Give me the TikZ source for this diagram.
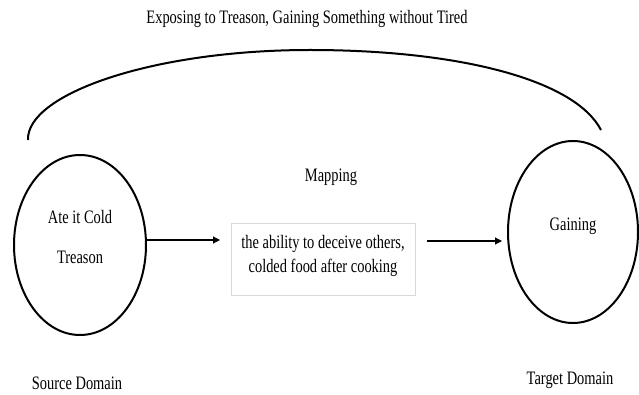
\documentclass[tikz,border=0pt]{standalone}
\usepackage{fontspec}
\setmainfont[FakeStretch=0.76]{Liberation Serif}
\usetikzlibrary{arrows.meta}
\begin{document}
\begin{tikzpicture}[x=1pt,y=-1pt,
  lbl/.style={font=\fontsize{19}{22}\selectfont, inner sep=0pt, anchor=base},
  link/.style={-{Triangle[length=7pt,width=7pt]}, line width=1.2pt},
  mapbox/.style={draw=black!15, line width=0.8pt, minimum width=184pt, minimum height=72pt, inner sep=0pt}]
\useasboundingbox (0,0) rectangle (639,395);
% domains
\draw[line width=2pt] (80,245) ellipse [x radius=66, y radius=90];
\draw[line width=2pt] (573,232) ellipse [x radius=65, y radius=91];
\coordinate (srcR) at (146,240);
\coordinate (mapL) at (220,240);
\coordinate (mapR) at (427,241);
\coordinate (tgtL) at (502,241);
% overarching arc
\draw[line width=2pt] (28,140) .. controls (26,95) and (150,50) .. (310,50)
  .. controls (460,50) and (575,80) .. (601,130);
% mapping box and its two lines
\node[mapbox] (map) at (323,259) {};
\node[lbl] (mapl1) at (323,248) {the ability to deceive others,};
\node[lbl] (mapl2) at (323,272) {colded food after cooking};
% texts
\node[lbl] (title) at (307,24) {Exposing to Treason, Gaining Something without Tired};
\node[lbl] (mapping) at (331,182) {Mapping};
\node[lbl] (src1) at (80,224) {Ate it Cold};
\node[lbl] (src2) at (80,263) {Treason};
\node[lbl] (tgt) at (573,231) {Gaining};
\node[lbl] (srcd) at (77,389) {Source Domain};
\node[lbl] (tgtd) at (570,384) {Target Domain};
% arrows
\draw[link] (srcR) -- (mapL);
\draw[link] (mapR) -- (tgtL);
\end{tikzpicture}
\end{document}
